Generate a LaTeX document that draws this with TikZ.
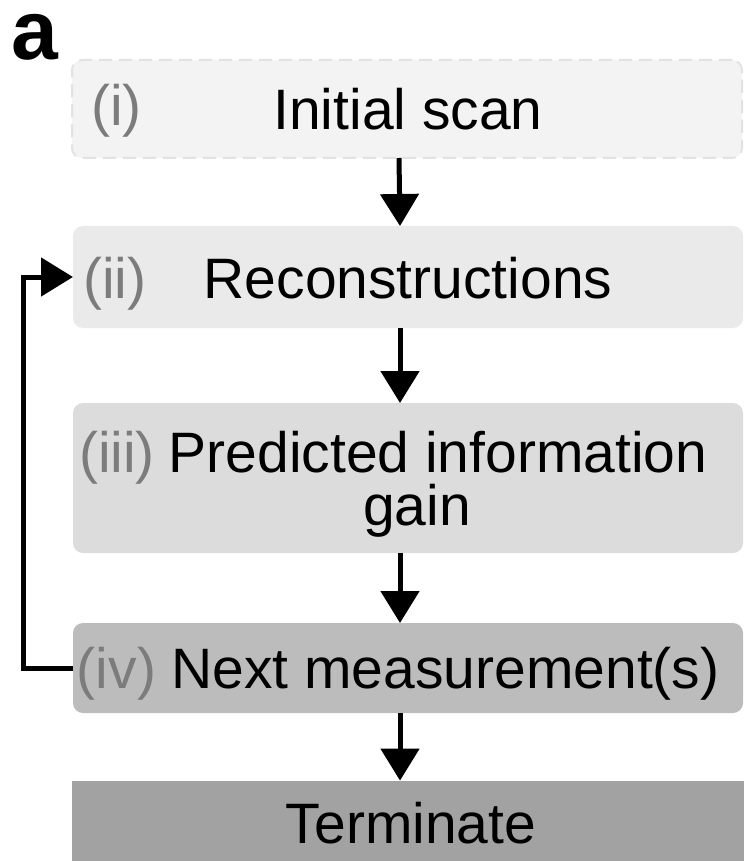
\documentclass[tikz,border=0pt]{standalone}
\usepackage{fontspec}
\setmainfont{Liberation Sans}
\usepackage{tikz}
\usetikzlibrary{arrows.meta}
\definecolor{stepone}{HTML}{F3F3F3}
\definecolor{steptwo}{HTML}{EAEAEA}
\definecolor{stepthree}{HTML}{DCDCDC}
\definecolor{stepfour}{HTML}{BCBCBC}
\definecolor{stepend}{HTML}{A2A2A2}
\definecolor{dashgray}{HTML}{E2E2E2}
\definecolor{labelgray}{HTML}{7C7C7C}

\begin{document}
\begin{tikzpicture}[x=0.5pt, y=-0.5pt,
    stepbox/.style={rectangle, rounded corners=5pt, inner sep=0pt, outer sep=0pt, minimum width=335pt},
    steptext/.style={anchor=base, inner sep=0pt, font=\fontsize{28.5pt}{34pt}\selectfont},
    steplabel/.style={steptext, text=labelgray},
    flow/.style={line width=2.5pt, -{Triangle[length=16pt, width=19pt]}}]
    \useasboundingbox (0,0) rectangle (744,861);

    \node[anchor=base, inner sep=0pt, font=\fontsize{42pt}{46pt}\selectfont\bfseries] at (34.5, 60) (panel) {a};

    \node[stepbox, fill=stepone, draw=dashgray, line width=1pt, dash pattern=on 6.5pt off 3.5pt, minimum height=49pt] at (407, 109) (scan) {};
    \node[stepbox, fill=steptwo, minimum height=51pt] at (408, 277) (recon) {};
    \node[stepbox, fill=stepthree, minimum height=75pt] at (408, 478) (gain) {};
    \node[stepbox, fill=stepfour, minimum height=45pt] at (408, 668) (next) {};
    \node[rectangle, fill=stepend, inner sep=0pt, minimum width=336pt, minimum height=40pt] at (408, 821) (stop) {};

    \node[steplabel] at (116.5, 126) (lscan) {(i)};
    \node[steptext] at (408, 130) (tscan) {Initial scan};
    \node[steplabel] at (115, 298) (lrecon) {(ii)};
    \node[steptext] at (408, 298) (trecon) {Reconstructions};
    \node[steplabel] at (117, 472) (lgain) {(iii)};
    \node[steptext] at (438, 472) (tgaina) {Predicted information};
    \node[steptext] at (417, 525) (tgainb) {gain};
    \node[steplabel] at (116.5, 688) (lnext) {(iv)};
    \node[steptext] at (445.5, 688) (tnext) {Next measurement(s)};
    \node[steptext] at (411, 843) (tstop) {Terminate};

    \draw [flow] ([xshift=-4pt]scan.south) -- ([xshift=-4pt]recon.north);
    \draw [flow] ([xshift=-4pt]recon.south) -- ([xshift=-4pt]gain.north);
    \draw [flow] ([xshift=-4pt]gain.south) -- ([xshift=-4pt]next.north);
    \draw [flow] ([xshift=-4pt]next.south) -- ([xshift=-4pt]stop.north);
    \draw [flow] (next.west) -- ++(-25pt,0) |- (recon.west);
\end{tikzpicture}
\end{document}
